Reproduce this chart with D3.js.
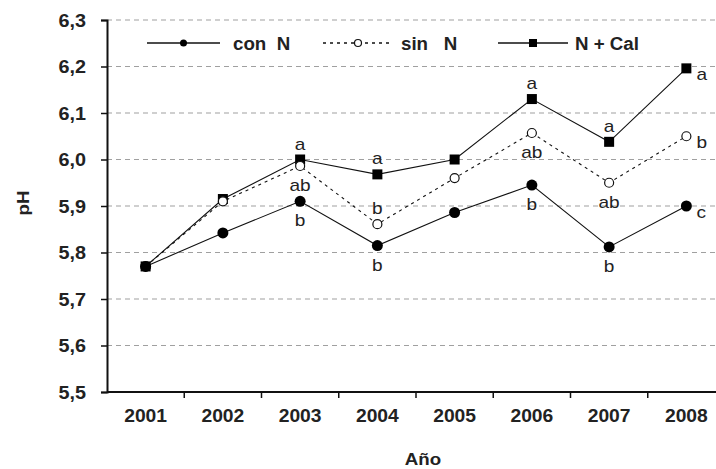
<!DOCTYPE html>
<html>
<head>
<meta charset="utf-8">
<script src="https://cdn.jsdelivr.net/npm/d3@7"></script>
<style>
  body { margin: 0; background: #fff; }
  svg { font-family: "Liberation Sans", Arial, sans-serif; }
  .tick text { font-size: 18px; font-weight: bold; fill: #222; }
  .letter { font-size: 17px; fill: #222; }
</style>
</head>
<body>
<div id="chart"></div>
<script>
// chart values
var years = ["2001", "2002", "2003", "2004", "2005", "2006", "2007", "2008"];
var conN = [5.77, 5.842, 5.91, 5.815, 5.886, 5.945, 5.812, 5.9];
var sinN = [5.77, 5.91, 5.986, 5.861, 5.96, 6.057, 5.95, 6.05];
var nCal = [5.77, 5.915, 6.0, 5.968, 6.0, 6.13, 6.038, 6.196];
var yTicks = [5.5, 5.6, 5.7, 5.8, 5.9, 6.0, 6.1, 6.2, 6.3];

// significance letters: [year index, series, text]
var letters = [
  [2, "nCal", "a"], [2, "sinN", "ab"], [2, "conN", "b"],
  [3, "nCal", "a"], [3, "sinN", "b"], [3, "conN", "b"],
  [5, "nCal", "a"], [5, "sinN", "ab"], [5, "conN", "b"],
  [6, "nCal", "a"], [6, "sinN", "ab"], [6, "conN", "b"],
  [7, "nCal", "a"], [7, "sinN", "b"], [7, "conN", "c"]
];

var svgWidth = 716;
var svgHeight = 469;
var margin = {top: 20, right: -9, bottom: 77, left: 107};
var width = svgWidth - margin.left - margin.right;
var height = svgHeight - margin.top - margin.bottom;

var svg = d3.select("#chart")
  .append("svg")
  .attr("width", svgWidth)
  .attr("height", svgHeight);

var chartGroup = svg.append("g")
  .attr("transform", `translate(${margin.left}, ${margin.top})`);

var xScale = d3.scaleBand()
  .domain(years)
  .range([0, width]);

var yScale = d3.scaleLinear()
  .domain([5.5, 6.3])
  .range([height, 0]);

var fmt = d => d3.format(".1f")(d).replace(".", ",");
var xc = i => xScale(years[i]) + xScale.bandwidth() / 2;

// the original text is a little wider than Arial, so stretch it
function stretch(sel, k) {
  sel.each(function() {
    var l = this.getComputedTextLength();
    d3.select(this).attr("textLength", l * k).attr("lengthAdjust", "spacingAndGlyphs");
  });
}

// gridlines
chartGroup.selectAll(".grid")
  .data(yTicks.slice(1))
  .enter()
  .append("line")
  .attr("x1", 0)
  .attr("x2", svgWidth - margin.left)
  .attr("y1", d => yScale(d))
  .attr("y2", d => yScale(d))
  .attr("stroke", "#a0a0a0")
  .attr("stroke-width", 1.2)
  .attr("stroke-dasharray", "5,4");

// axes
var leftAxis = d3.axisLeft(yScale).tickValues(yTicks).tickFormat(fmt).tickSize(6).tickPadding(15);
var yAxisG = chartGroup.append("g").call(leftAxis);
yAxisG.select(".domain").attr("stroke", "#111").attr("stroke-width", 2);
yAxisG.selectAll(".tick line").attr("stroke", "#111").attr("stroke-width", 1.5);
yAxisG.selectAll(".tick text").attr("dy", "0.36em").call(stretch, 1.1);

var xAxisG = chartGroup.append("g")
  .attr("transform", `translate(0, ${height})`);
xAxisG.append("line")
  .attr("x1", 0).attr("x2", svgWidth - margin.left)
  .attr("stroke", "#111").attr("stroke-width", 2);
xAxisG.selectAll(".xt")
  .data(years.slice(1))
  .enter()
  .append("line")
  .attr("x1", d => xScale(d))
  .attr("x2", d => xScale(d))
  .attr("y1", 0).attr("y2", 6)
  .attr("stroke", "#111").attr("stroke-width", 1.5);
xAxisG.selectAll(".tick")
  .data(years)
  .enter()
  .append("g")
  .attr("class", "tick")
  .append("text")
  .attr("x", (d, i) => xc(i))
  .attr("y", 30)
  .attr("text-anchor", "middle")
  .text(d => d)
  .call(stretch, 1.07);

// lines
var line = d3.line()
  .x((d, i) => xc(i))
  .y(d => yScale(d));

chartGroup.append("path").datum(sinN)
  .attr("d", line).attr("fill", "none")
  .attr("stroke", "#111").attr("stroke-width", 1.1)
  .attr("stroke-dasharray", "3,4");
chartGroup.append("path").datum(conN)
  .attr("d", line).attr("fill", "none")
  .attr("stroke", "#111").attr("stroke-width", 1.1);
chartGroup.append("path").datum(nCal)
  .attr("d", line).attr("fill", "none")
  .attr("stroke", "#111").attr("stroke-width", 1.1);

// markers
chartGroup.selectAll(".mCal").data(nCal).enter()
  .append("rect")
  .attr("x", (d, i) => xc(i) - 5)
  .attr("y", d => yScale(d) - 5)
  .attr("width", 10).attr("height", 10)
  .attr("fill", "#000");
chartGroup.selectAll(".mSin").data(sinN).enter()
  .append("circle")
  .attr("cx", (d, i) => xc(i))
  .attr("cy", d => yScale(d))
  .attr("r", 4.5)
  .attr("fill", "#fff").attr("stroke", "#111").attr("stroke-width", 1.2);
chartGroup.selectAll(".mCon").data(conN).enter()
  .append("circle")
  .attr("cx", (d, i) => xc(i))
  .attr("cy", d => yScale(d))
  .attr("r", 5.5)
  .attr("fill", "#000");

// letters
var seriesMap = {conN: conN, sinN: sinN, nCal: nCal};
chartGroup.selectAll(".letter").data(letters).enter()
  .append("text")
  .attr("class", "letter")
  .attr("text-anchor", d => d[0] === 7 ? "start" : "middle")
  .attr("x", d => d[0] === 7 ? xc(d[0]) + 10 : xc(d[0]))
  .attr("y", function(d) {
    var v = yScale(seriesMap[d[1]][d[0]]);
    if (d[0] === 7) return v + 12;
    if (d[1] === "nCal") return v - 10;
    if (d[1] === "sinN" && d[0] === 3) return v - 10;
    return v + 25;
  })
  .text(d => d[2])
  .call(stretch, 1.12);

// legend
var legend = svg.append("g").attr("transform", "translate(0, 43)");
var legendItems = [
  {name: "con\u00a0 N", x1: 147, x2: 220, dash: null, marker: "dot", tx: 233},
  {name: "sin\u00a0\u00a0\u00a0N", x1: 323, x2: 393, dash: "3,4", marker: "open", tx: 401},
  {name: "N + Cal", x1: 498, x2: 568, dash: null, marker: "square", tx: 575}
];
legendItems.forEach(function(it) {
  legend.append("line")
    .attr("x1", it.x1).attr("x2", it.x2)
    .attr("stroke", "#111").attr("stroke-width", 1.3)
    .attr("stroke-dasharray", it.dash);
  var mx = (it.x1 + it.x2) / 2;
  if (it.marker === "dot") {
    legend.append("circle").attr("cx", mx).attr("r", 3.5).attr("fill", "#000");
  } else if (it.marker === "open") {
    legend.append("circle").attr("cx", mx).attr("r", 3.5)
      .attr("fill", "#fff").attr("stroke", "#111").attr("stroke-width", 1.2);
  } else {
    legend.append("rect").attr("x", mx - 4).attr("y", -4)
      .attr("width", 8).attr("height", 8).attr("fill", "#000");
  }
  legend.append("text")
    .attr("x", it.tx).attr("y", 7)
    .attr("font-size", 18).attr("font-weight", "bold").attr("fill", "#222")
    .text(it.name)
    .call(stretch, 1.04);
});

// axis labels
svg.append("text")
  .attr("transform", "translate(29, 203) rotate(-90)")
  .attr("text-anchor", "middle")
  .attr("font-size", 17).attr("font-weight", "bold").attr("fill", "#222")
  .text("pH")
  .call(stretch, 1.1);

svg.append("text")
  .attr("x", 423).attr("y", 465)
  .attr("text-anchor", "middle")
  .attr("font-size", 17).attr("font-weight", "bold").attr("fill", "#222")
  .text("Año")
  .call(stretch, 1.1);
</script>
</body>
</html>
